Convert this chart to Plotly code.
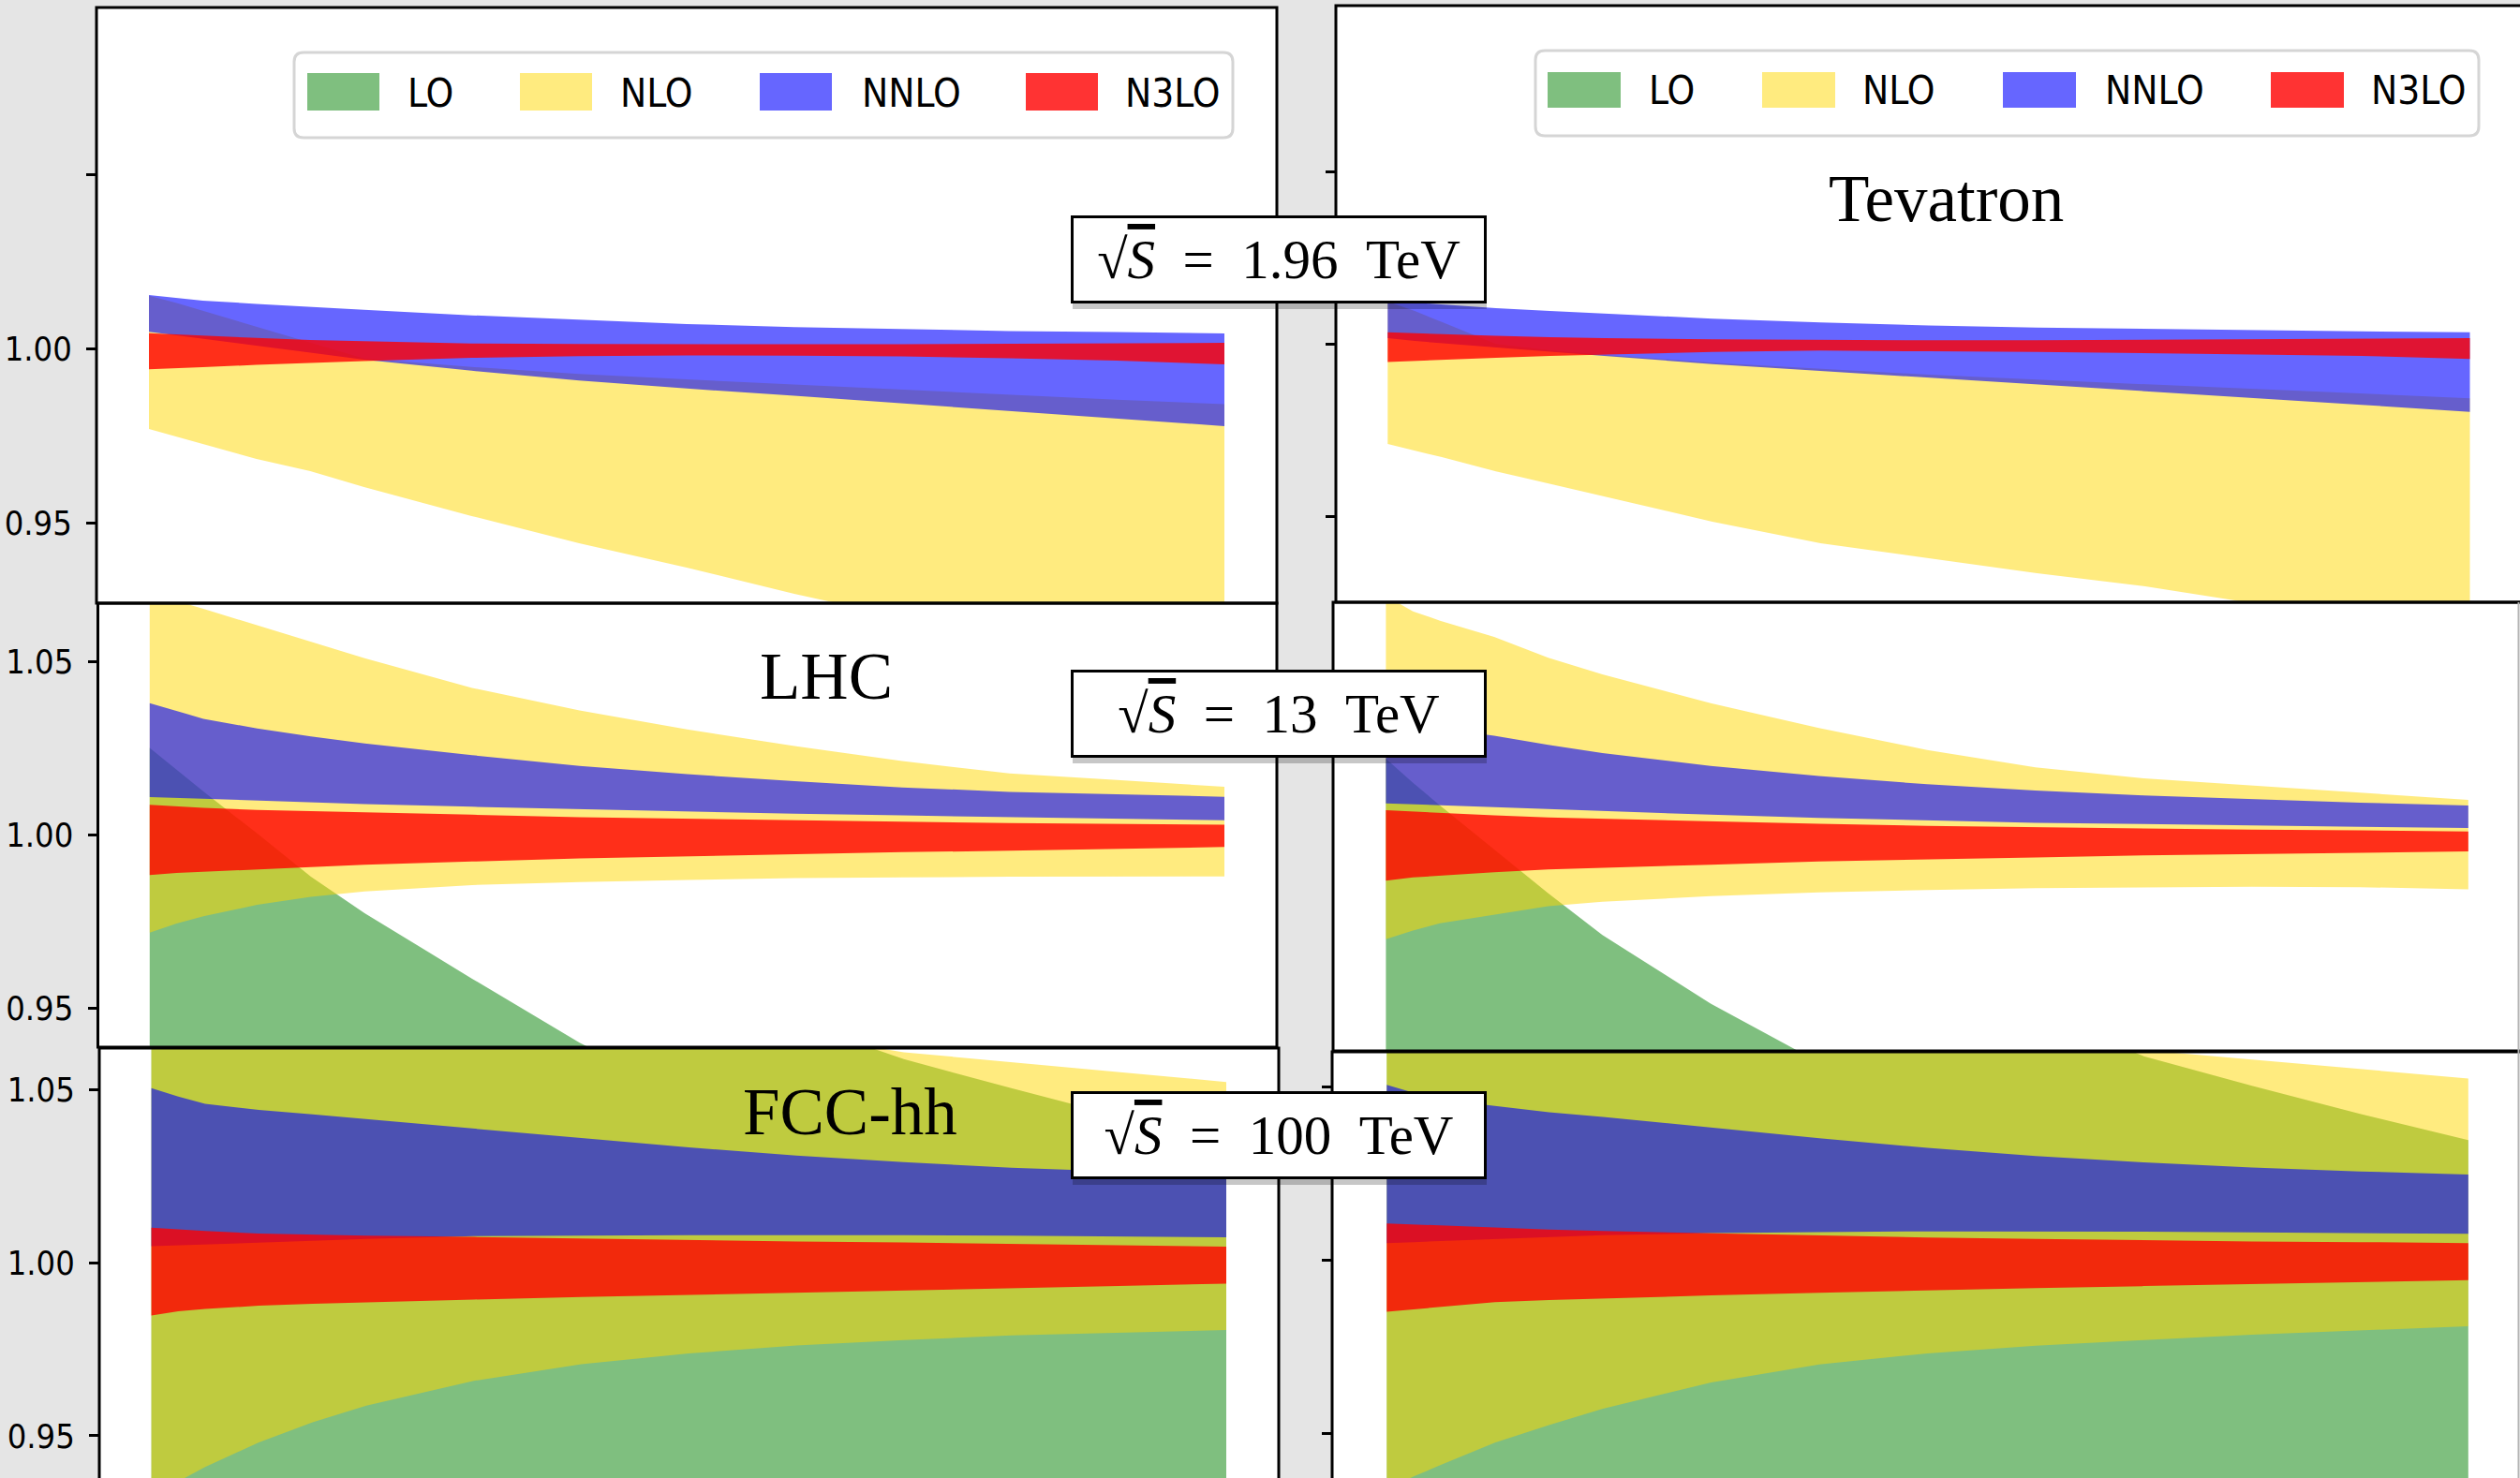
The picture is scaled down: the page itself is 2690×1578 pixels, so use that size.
import plotly.graph_objects as go

W, H = 2690, 1578

# ---------------- data ----------------
t_grid = [0.0, 0.025, 0.05, 0.1, 0.15, 0.2, 0.3, 0.4, 0.5, 0.6, 0.7, 0.8, 0.9, 1.0]

orders = ["LO", "NLO", "NNLO", "N3LO"]
order_colors = ["rgba(0,128,0,0.5)", "rgba(255,215,0,0.5)",
                "rgba(0,0,255,0.6)", "rgba(255,0,0,0.8)"]

collider_names = ["Tevatron", "LHC", "FCC-hh"]
collider_energies = ["1.96", "13", "100"]

# Tevatron, left column
tev_left_LO_lo = [0.760, 0.763, 0.765, 0.770, 0.775, 0.780, 0.788, 0.795, 0.801, 0.806, 0.811, 0.815, 0.819, 0.822]
tev_left_LO_hi = [0.880, 0.881, 0.882, 0.884, 0.886, 0.888, 0.891, 0.894, 0.896, 0.898, 0.900, 0.902, 0.903, 0.905]
tev_left_NLO_lo = [0.9769, 0.9747, 0.9726, 0.9683, 0.9648, 0.9602, 0.9519, 0.9441, 0.9371, 0.9296, 0.9226, 0.9159, 0.9091, 0.9024]
tev_left_NLO_hi = [1.0151, 1.0131, 1.0108, 1.0062, 1.0017, 0.9971, 0.9947, 0.9927, 0.9911, 0.9896, 0.9882, 0.9868, 0.9853, 0.9840]
tev_left_NNLO_lo = [1.0048, 1.0039, 1.0029, 1.0008, 0.9988, 0.9968, 0.9936, 0.9908, 0.9885, 0.9864, 0.9842, 0.9821, 0.9799, 0.9777]
tev_left_NNLO_hi = [1.0153, 1.0144, 1.0137, 1.0128, 1.0119, 1.0111, 1.0095, 1.0082, 1.0070, 1.0061, 1.0055, 1.0050, 1.0047, 1.0043]
tev_left_N3LO_lo = [0.9940, 0.9944, 0.9946, 0.9953, 0.9959, 0.9964, 0.9973, 0.9978, 0.9980, 0.9979, 0.9977, 0.9972, 0.9965, 0.9954]
tev_left_N3LO_hi = [1.0044, 1.0040, 1.0037, 1.0030, 1.0024, 1.0020, 1.0014, 1.0013, 1.0012, 1.0012, 1.0012, 1.0013, 1.0014, 1.0016]

# Tevatron, right column
tev_right_LO_lo = [0.765, 0.767, 0.770, 0.775, 0.780, 0.784, 0.792, 0.799, 0.805, 0.810, 0.814, 0.818, 0.822, 0.825]
tev_right_LO_hi = [0.885, 0.886, 0.887, 0.889, 0.891, 0.892, 0.895, 0.897, 0.899, 0.901, 0.903, 0.905, 0.906, 0.908]
tev_right_NLO_lo = [0.9709, 0.9690, 0.9671, 0.9630, 0.9595, 0.9557, 0.9484, 0.9421, 0.9378, 0.9334, 0.9296, 0.9247, 0.9201, 0.9155]
tev_right_NLO_hi = [1.0122, 1.0095, 1.0063, 0.9999, 0.9981, 0.9968, 0.9945, 0.9927, 0.9910, 0.9896, 0.9882, 0.9870, 0.9856, 0.9842]
tev_right_NNLO_lo = [1.0016, 1.0008, 1.0000, 0.9990, 0.9977, 0.9965, 0.9941, 0.9921, 0.9901, 0.9881, 0.9862, 0.9843, 0.9823, 0.9802]
tev_right_NNLO_hi = [1.0125, 1.0119, 1.0113, 1.0103, 1.0095, 1.0087, 1.0073, 1.0062, 1.0053, 1.0047, 1.0043, 1.0039, 1.0036, 1.0033]
tev_right_N3LO_lo = [0.9947, 0.9950, 0.9954, 0.9959, 0.9965, 0.9969, 0.9976, 0.9980, 0.9978, 0.9976, 0.9973, 0.9969, 0.9965, 0.9956]
tev_right_N3LO_hi = [1.0033, 1.0030, 1.0027, 1.0023, 1.0019, 1.0016, 1.0013, 1.0011, 1.0010, 1.0010, 1.0011, 1.0012, 1.0014, 1.0016]

# LHC, left column
lhc_left_LO_lo = [0.925, 0.922, 0.918, 0.905, 0.895, 0.885, 0.868, 0.853, 0.840, 0.828, 0.818, 0.809, 0.801, 0.794]
lhc_left_LO_hi = [1.0252, 1.0189, 1.0126, 1.0005, 0.9880, 0.9775, 0.9586, 0.9401, 0.9248, 0.9104, 0.8969, 0.8842, 0.8725, 0.8617]
lhc_left_NLO_lo = [0.9719, 0.9745, 0.9766, 0.9799, 0.9822, 0.9838, 0.9856, 0.9865, 0.9871, 0.9876, 0.9878, 0.9880, 0.9881, 0.9881]
lhc_left_NLO_hi = [1.0720, 1.0676, 1.0653, 1.0606, 1.0559, 1.0511, 1.0425, 1.0360, 1.0305, 1.0257, 1.0214, 1.0178, 1.0159, 1.0140]
lhc_left_NNLO_lo = [1.0110, 1.0107, 1.0105, 1.0099, 1.0095, 1.0090, 1.0082, 1.0075, 1.0068, 1.0062, 1.0057, 1.0051, 1.0047, 1.0043]
lhc_left_NNLO_hi = [1.0381, 1.0359, 1.0336, 1.0308, 1.0285, 1.0265, 1.0231, 1.0200, 1.0176, 1.0156, 1.0138, 1.0125, 1.0117, 1.0111]
lhc_left_N3LO_lo = [0.9885, 0.9891, 0.9896, 0.9901, 0.9908, 0.9915, 0.9924, 0.9933, 0.9939, 0.9945, 0.9951, 0.9955, 0.9960, 0.9966]
lhc_left_N3LO_hi = [1.0088, 1.0083, 1.0079, 1.0073, 1.0069, 1.0065, 1.0059, 1.0052, 1.0047, 1.0042, 1.0039, 1.0035, 1.0033, 1.0030]

# LHC, right column
lhc_right_LO_lo = [0.925, 0.922, 0.918, 0.905, 0.895, 0.885, 0.868, 0.853, 0.840, 0.828, 0.818, 0.809, 0.801, 0.794]
lhc_right_LO_hi = [1.0221, 1.0151, 1.0086, 0.9960, 0.9832, 0.9712, 0.9514, 0.9345, 0.9203, 0.9072, 0.8954, 0.8842, 0.8734, 0.8635]
lhc_right_NLO_lo = [0.9700, 0.9725, 0.9746, 0.9770, 0.9795, 0.9808, 0.9824, 0.9835, 0.9842, 0.9847, 0.9850, 0.9851, 0.9850, 0.9844]
lhc_right_NLO_hi = [1.0690, 1.0646, 1.0619, 1.0572, 1.0512, 1.0464, 1.0381, 1.0309, 1.0246, 1.0196, 1.0164, 1.0144, 1.0124, 1.0102]
lhc_right_NNLO_lo = [1.0092, 1.0089, 1.0087, 1.0081, 1.0075, 1.0070, 1.0059, 1.0050, 1.0042, 1.0036, 1.0032, 1.0027, 1.0024, 1.0021]
lhc_right_NNLO_hi = [1.0329, 1.0318, 1.0307, 1.0287, 1.0261, 1.0237, 1.0200, 1.0171, 1.0147, 1.0129, 1.0115, 1.0104, 1.0094, 1.0086]
lhc_right_N3LO_lo = [0.9869, 0.9878, 0.9884, 0.9893, 0.9901, 0.9906, 0.9915, 0.9924, 0.9931, 0.9936, 0.9942, 0.9945, 0.9950, 0.9953]
lhc_right_N3LO_hi = [1.0072, 1.0068, 1.0064, 1.0057, 1.0051, 1.0047, 1.0039, 1.0033, 1.0027, 1.0023, 1.0019, 1.0016, 1.0014, 1.0011]

# FCC-hh, left column
fcc_left_LO_lo = [0.800, 0.810, 0.818, 0.835, 0.848, 0.860, 0.875, 0.885, 0.893, 0.899, 0.904, 0.908, 0.912, 0.915]
fcc_left_LO_hi = [1.140, 1.136, 1.132, 1.125, 1.117, 1.110, 1.098, 1.088, 1.078, 1.0696, 1.0589, 1.0505, 1.0424, 1.0360]
fcc_left_NLO_lo = [0.9322, 0.9368, 0.9410, 0.9481, 0.9539, 0.9587, 0.9659, 0.9707, 0.9738, 0.9761, 0.9777, 0.9790, 0.9799, 0.9806]
fcc_left_NLO_hi = [1.130, 1.126, 1.122, 1.115, 1.107, 1.100, 1.090, 1.080, 1.072, 1.0659, 1.0609, 1.0580, 1.0552, 1.0523]
fcc_left_NNLO_lo = [1.0048, 1.0051, 1.0053, 1.0059, 1.0064, 1.0069, 1.0077, 1.0079, 1.0080, 1.0081, 1.0080, 1.0079, 1.0077, 1.0074]
fcc_left_NNLO_hi = [1.0505, 1.0481, 1.0460, 1.0442, 1.0429, 1.0415, 1.0387, 1.0361, 1.0334, 1.0310, 1.0291, 1.0275, 1.0264, 1.0255]
fcc_left_N3LO_lo = [0.9848, 0.9860, 0.9867, 0.9876, 0.9882, 0.9887, 0.9894, 0.9901, 0.9907, 0.9913, 0.9920, 0.9927, 0.9933, 0.9940]
fcc_left_N3LO_hi = [1.0102, 1.0096, 1.0092, 1.0085, 1.0081, 1.0079, 1.0075, 1.0070, 1.0066, 1.0062, 1.0059, 1.0054, 1.0051, 1.0047]

# FCC-hh, right column
fcc_right_LO_lo = [0.800, 0.810, 0.818, 0.835, 0.848, 0.860, 0.875, 0.885, 0.893, 0.899, 0.904, 0.908, 0.912, 0.915]
fcc_right_LO_hi = [1.140, 1.136, 1.132, 1.125, 1.118, 1.110, 1.098, 1.088, 1.079, 1.072, 1.0587, 1.0502, 1.0421, 1.0345]
fcc_right_NLO_lo = [0.9338, 0.9375, 0.9408, 0.9472, 0.9523, 0.9570, 0.9646, 0.9698, 0.9730, 0.9752, 0.9768, 0.9784, 0.9797, 0.9808]
fcc_right_NLO_hi = [1.115, 1.112, 1.109, 1.103, 1.097, 1.092, 1.083, 1.076, 1.069, 1.064, 1.0605, 1.0578, 1.0550, 1.0523]
fcc_right_NNLO_lo = [1.0048, 1.0051, 1.0054, 1.0060, 1.0066, 1.0071, 1.0077, 1.0080, 1.0082, 1.0082, 1.0081, 1.0079, 1.0078, 1.0075]
fcc_right_NNLO_hi = [1.0505, 1.0482, 1.0462, 1.0443, 1.0426, 1.0412, 1.0381, 1.0351, 1.0323, 1.0299, 1.0281, 1.0266, 1.0255, 1.0246]
fcc_right_N3LO_lo = [0.9850, 0.9858, 0.9865, 0.9878, 0.9884, 0.9889, 0.9897, 0.9905, 0.9912, 0.9918, 0.9924, 0.9931, 0.9936, 0.9941]
fcc_right_N3LO_hi = [1.0105, 1.0102, 1.0098, 1.0092, 1.0087, 1.0083, 1.0076, 1.0069, 1.0064, 1.0060, 1.0056, 1.0053, 1.0051, 1.0048]

y_tick_vals = [0.95, 1.00, 1.05]
y_tick_text = ["0.95", "1.00", "1.05"]

bands = {
    "tev_left": [(tev_left_LO_lo, tev_left_LO_hi), (tev_left_NLO_lo, tev_left_NLO_hi),
                 (tev_left_NNLO_lo, tev_left_NNLO_hi), (tev_left_N3LO_lo, tev_left_N3LO_hi)],
    "tev_right": [(tev_right_LO_lo, tev_right_LO_hi), (tev_right_NLO_lo, tev_right_NLO_hi),
                  (tev_right_NNLO_lo, tev_right_NNLO_hi), (tev_right_N3LO_lo, tev_right_N3LO_hi)],
    "lhc_left": [(lhc_left_LO_lo, lhc_left_LO_hi), (lhc_left_NLO_lo, lhc_left_NLO_hi),
                 (lhc_left_NNLO_lo, lhc_left_NNLO_hi), (lhc_left_N3LO_lo, lhc_left_N3LO_hi)],
    "lhc_right": [(lhc_right_LO_lo, lhc_right_LO_hi), (lhc_right_NLO_lo, lhc_right_NLO_hi),
                  (lhc_right_NNLO_lo, lhc_right_NNLO_hi), (lhc_right_N3LO_lo, lhc_right_N3LO_hi)],
    "fcc_left": [(fcc_left_LO_lo, fcc_left_LO_hi), (fcc_left_NLO_lo, fcc_left_NLO_hi),
                 (fcc_left_NNLO_lo, fcc_left_NNLO_hi), (fcc_left_N3LO_lo, fcc_left_N3LO_hi)],
    "fcc_right": [(fcc_right_LO_lo, fcc_right_LO_hi), (fcc_right_NLO_lo, fcc_right_NLO_hi),
                  (fcc_right_NNLO_lo, fcc_right_NNLO_hi), (fcc_right_N3LO_lo, fcc_right_N3LO_hi)],
}

# ---------------- layout (pixel geometry) ----------------
# x0,x1,y0,y1: frame in px; bx0,bx1: px of t=0 / t=1 ; ref: px of y=1.00 ; k: px per unit
panels = [
    dict(key="tev_left", x0=103, x1=1363, y0=8, y1=644, bx0=159, bx1=1307, ref=372, k=3720,
         ticks=True, labels=["0.95", "1.00", ""]),
    dict(key="tev_right", x0=1426, x1=2700, y0=6, y1=643, bx0=1481.3, bx1=2636.5, ref=367, k=3680,
         ticks=True, labels=None),
    dict(key="lhc_left", x0=104.5, x1=1363, y0=644, y1=1118, bx0=159.8, bx1=1307, ref=891.7, k=3700,
         ticks=True, labels=y_tick_text),
    dict(key="lhc_right", x0=1423, x1=2700, y0=643, y1=1122, bx0=1479.4, bx1=2634.8, ref=891.7, k=3700,
         ticks=False, labels=None),
    dict(key="fcc_left", x0=106, x1=1365, y0=1119, y1=1600, bx0=161.6, bx1=1309, ref=1348.3, k=3693,
         ticks=True, labels=y_tick_text),
    dict(key="fcc_right", x0=1422, x1=2700, y0=1123, y1=1600, bx0=1480.3, bx1=2634.8, ref=1345, k=3700,
         ticks=True, labels=None),
]

SANS = "DejaVu Sans Condensed, Liberation Sans Narrow, DejaVu Sans, sans-serif"
TICKFONT = dict(family=SANS, size=36, color="black")
SERIF = "Liberation Serif, Times New Roman, DejaVu Serif, serif"

fig = go.Figure()
layout = dict(width=W, height=H, autosize=False,
              margin=dict(l=0, r=0, t=0, b=0, pad=0),
              paper_bgcolor="#e5e5e5", plot_bgcolor="white",
              showlegend=False)
shapes = []
annotations = []

def px2x(p):
    return p / W

def px2y(p):
    return 1 - p / H

for i, p in enumerate(panels, start=1):
    sx = "" if i == 1 else str(i)
    xa, ya = "x" + sx, "y" + sx
    cx0, cx1 = max(0, p["x0"]), min(W, p["x1"])
    cy0, cy1 = max(0, p["y0"]), min(H, p["y1"])
    span = p["bx1"] - p["bx0"]
    xr = [(cx0 - p["bx0"]) / span, (cx1 - p["bx0"]) / span]
    yr = [1 + (p["ref"] - cy1) / p["k"], 1 + (p["ref"] - cy0) / p["k"]]
    layout["xaxis" + sx] = dict(domain=[px2x(cx0), px2x(cx1)], range=xr, anchor=ya,
                                showgrid=False, zeroline=False, showticklabels=False,
                                ticks="", showline=False, fixedrange=True)
    yax = dict(domain=[px2y(cy1), px2y(cy0)], range=yr, anchor=xa,
               showgrid=False, zeroline=False, showline=False, fixedrange=True)
    if p["ticks"]:
        yax.update(ticks="outside", ticklen=10, tickwidth=3, tickcolor="black",
                   tickvals=y_tick_vals, tickfont=TICKFONT, ticklabelstandoff=8)
        if p["labels"] is None:
            yax.update(showticklabels=False)
        else:
            yax.update(ticktext=p["labels"], showticklabels=True)
    else:
        yax.update(ticks="", showticklabels=False)
    layout["yaxis" + sx] = yax

    for (lo, hi), name, col in zip(bands[p["key"]], orders, order_colors):
        fig.add_trace(go.Scatter(
            x=t_grid + t_grid[::-1], y=hi + lo[::-1],
            fill="toself", fillcolor=col, mode="lines", line=dict(width=0),
            name=name, hoverinfo="skip", xaxis=xa, yaxis=ya))

    # panel frame
    shapes.append(dict(type="rect", xref="paper", yref="paper", layer="above",
                       x0=px2x(p["x0"]), x1=px2x(p["x1"]), y0=px2y(p["y1"]), y1=px2y(p["y0"]),
                       line=dict(color="black", width=3), fillcolor="rgba(0,0,0,0)"))

# thin grey edge at the right of the lower right panels
shapes.append(dict(type="line", xref="paper", yref="paper", layer="above",
                   x0=px2x(2688.5), x1=px2x(2688.5), y0=px2y(1578), y1=px2y(643),
                   line=dict(color="#b4b4b4", width=2)))

# ---------------- legends (top panels) ----------------
def rounded_rect(x0, y0, x1, y1, r):
    X = lambda v: px2x(v)
    Y = lambda v: px2y(v)
    return (f"M {X(x0 + r)} {Y(y0)} L {X(x1 - r)} {Y(y0)} Q {X(x1)} {Y(y0)} {X(x1)} {Y(y0 + r)} "
            f"L {X(x1)} {Y(y1 - r)} Q {X(x1)} {Y(y1)} {X(x1 - r)} {Y(y1)} "
            f"L {X(x0 + r)} {Y(y1)} Q {X(x0)} {Y(y1)} {X(x0)} {Y(y1 - r)} "
            f"L {X(x0)} {Y(y0 + r)} Q {X(x0)} {Y(y0)} {X(x0 + r)} {Y(y0)} Z")

legend_specs = [
    dict(box=(314, 56, 1316, 147), patches=[328, 555, 811, 1095], pw=77, py=(78, 118),
         texts=[435, 662, 920, 1201]),
    dict(box=(1639, 54, 2646, 145), patches=[1652, 1881, 2138, 2424], pw=78, py=(77, 115),
         texts=[1760, 1988, 2247, 2531]),
]
for L in legend_specs:
    bx0, by0, bx1, by1 = L["box"]
    shapes.append(dict(type="path", xref="paper", yref="paper", layer="above",
                       path=rounded_rect(bx0, by0, bx1, by1, 10),
                       fillcolor="white", line=dict(color="#d5d5d5", width=3)))
    for px0, tx, name, col in zip(L["patches"], L["texts"], orders, order_colors):
        shapes.append(dict(type="rect", xref="paper", yref="paper", layer="above",
                           x0=px2x(px0), x1=px2x(px0 + L["pw"]),
                           y0=px2y(L["py"][1]), y1=px2y(L["py"][0]),
                           fillcolor=col, line=dict(width=0)))
        annotations.append(dict(xref="paper", yref="paper", x=px2x(tx - 2),
                                y=px2y((L["py"][0] + L["py"][1]) / 2 + 1),
                                xanchor="left", yanchor="middle", showarrow=False,
                                text=name,
                                font=dict(family=SANS, size=42, color="black")))

# ---------------- collider names ----------------
name_pos = [(2077, 212), (882, 722), (907, 1187)]
for name, (cx, cy) in zip(collider_names, name_pos):
    annotations.append(dict(xref="paper", yref="paper", x=px2x(cx), y=px2y(cy),
                            xanchor="center", yanchor="middle", showarrow=False,
                            text=name, font=dict(family=SERIF, size=71, color="black")))

# ---------------- energy boxes ----------------
box_centers = [(1365, 277), (1365, 762), (1365, 1212)]
BW, BH = 438, 88
for e, (cx, cy) in zip(collider_energies, box_centers):
    shapes.append(dict(type="rect", xref="paper", yref="paper", layer="above",
                       x0=px2x(cx - BW / 2 - 1), x1=px2x(cx + BW / 2 + 3),
                       y0=px2y(cy + BH / 2 + 9), y1=px2y(cy - BH / 2 + 6),
                       fillcolor="rgba(0,0,0,0.22)", line=dict(width=0)))
    annotations.append(dict(xref="paper", yref="paper", x=px2x(cx), y=px2y(cy),
                            xanchor="center", yanchor="middle", showarrow=False,
                            text="√<span style='text-decoration:overline'><i>S</i></span>"
                                 "\u2002=\u2002" + e + "\u2002TeV",
                            font=dict(family=SERIF, size=59, color="black"),
                            bgcolor="white", bordercolor="black", borderwidth=3,
                            borderpad=0, width=BW, height=BH))

layout["shapes"] = shapes
layout["annotations"] = annotations
fig.update_layout(**layout)

fig.write_html("out.html")
